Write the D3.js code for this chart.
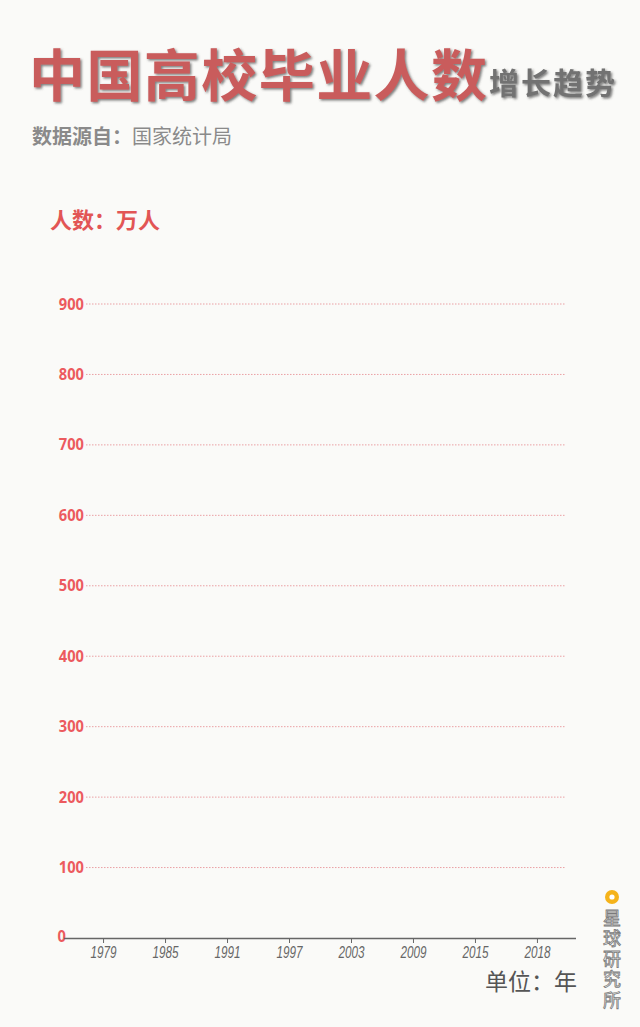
<!DOCTYPE html>
<html><head><meta charset="utf-8">
<script src="https://cdn.jsdelivr.net/npm/d3@7/dist/d3.min.js"></script>
<style>
html,body{margin:0;padding:0;background:#fafaf8;}
svg{display:block;}
</style></head>
<body>
<svg id="c" width="640" height="1027"></svg>
<script>
const years = ["1979","1985","1991","1997","2003","2009","2015","2018"];
const yTicks = [0,100,200,300,400,500,600,700,800,900];
const graduates = []; // first frame of the animation: no bars drawn yet

const svg = d3.select("#c");
svg.append("rect").attr("width",640).attr("height",1027).attr("fill","#fafaf8");

const x = d3.scalePoint().domain(years).range([64,576]).padding(0.63);
const y = d3.scaleLinear().domain([0,900]).range([938,304]);

const defs = svg.append("defs");
const f = defs.append("filter").attr("id","sh").attr("x","-10%").attr("y","-10%").attr("width","130%").attr("height","130%");
f.append("feDropShadow").attr("dx",1.5).attr("dy",1.5).attr("stdDeviation",0.8).attr("flood-color","#444").attr("flood-opacity",0.7);

// Title
svg.append("text").attr("x",29).attr("y",96)
  .attr("font-family","'Noto Sans CJK SC'").attr("font-weight",700).attr("font-size",56)
  .attr("fill","#c95c5c").attr("filter","url(#sh)").attr("textLength",458)
  .text("中国高校毕业人数");
svg.append("text").attr("x",489).attr("y",94)
  .attr("font-family","'Noto Sans CJK SC'").attr("font-weight",700).attr("font-size",30)
  .attr("fill","#727272").attr("filter","url(#sh)").attr("textLength",126)
  .text("增长趋势");

// source
const src = svg.append("text").attr("x",32).attr("y",144)
  .attr("font-family","'Noto Sans CJK SC'").attr("font-size",20).attr("fill","#8a8a8a");
src.append("tspan").attr("font-weight",700).text("数据源自：");
src.append("tspan").attr("font-weight",400).text("国家统计局");

// unit label
svg.append("text").attr("x",50).attr("y",228)
  .attr("font-family","'Noto Sans CJK SC'").attr("font-weight",700).attr("font-size",22)
  .attr("fill","#e25555").text("人数：万人");

// gridlines
svg.append("g").selectAll("line").data(yTicks.filter(d=>d>0)).join("line")
  .attr("x1",86).attr("x2",566).attr("y1",d=>y(d)).attr("y2",d=>y(d))
  .attr("stroke","#eaa0a4").attr("stroke-width",1).attr("stroke-dasharray","1.5,1.5");

// y labels
svg.append("g").selectAll("text").data(yTicks).join("text")
  .attr("x",d=>d===0?66:84).attr("y",d=>y(d)+(d===0?-2:0))
  .attr("dy","0.35em").attr("text-anchor","end")
  .attr("font-family","'Noto Sans','Liberation Sans'").attr("font-weight",700).attr("font-size",16)
  .attr("fill","#ec5a5e").attr("textLength",d=>String(d).length*8.4).attr("lengthAdjust","spacingAndGlyphs")
  .text(d=>d);

// bars (none in this frame)
svg.append("g").selectAll("rect").data(graduates).join("rect");

// x axis
const xa = svg.append("g").attr("transform","translate(0,938)")
  .call(d3.axisBottom(x).tickSize(5).tickSizeOuter(0));
xa.select(".domain").attr("stroke","#666").attr("stroke-width",1.5).attr("d","M64,0.5H576");
xa.selectAll(".tick line").attr("stroke","#666");
xa.selectAll(".tick text").attr("y",20).attr("dy",0)
  .attr("font-family","'Liberation Sans'").attr("font-style","italic")
  .attr("font-size",17).attr("fill","#666")
  .attr("textLength",26).attr("lengthAdjust","spacingAndGlyphs");

// x unit
svg.append("text").attr("x",577).attr("y",990).attr("text-anchor","end")
  .attr("font-family","'Noto Sans CJK SC'").attr("font-size",23).attr("fill","#555")
  .text("单位：年");

// watermark
svg.append("circle").attr("cx",612).attr("cy",897).attr("r",7).attr("fill","#f5b31a");
svg.append("circle").attr("cx",612).attr("cy",897).attr("r",2.6).attr("fill","#fff");
svg.append("text").attr("x",612).attr("y",909)
  .style("writing-mode","vertical-rl").style("letter-spacing","2.5px")
  .attr("font-family","'Noto Sans CJK SC'").attr("font-size",18)
  .attr("fill","#f4f4f4").attr("stroke","#7a7a7a").attr("stroke-width",0.8)
  .text("星球研究所");
</script>
</body></html>
